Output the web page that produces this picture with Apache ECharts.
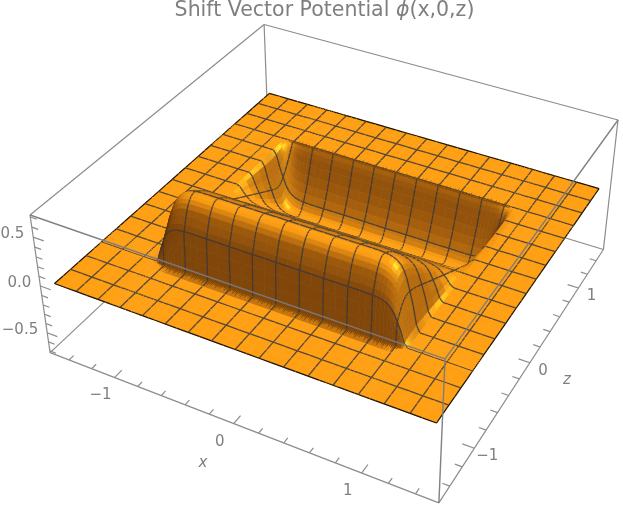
<!DOCTYPE html>
<html><head><meta charset="utf-8">
<style>html,body{margin:0;padding:0;background:#fff}#c{width:623px;height:506px}</style>
<script src="https://cdn.jsdelivr.net/npm/echarts@6/dist/echarts.min.js"></script>
</head><body><div id="c"></div>
<script>
// ---- values ----
const xHalf=[0,0.09,0.1875,0.28,0.375,0.47,0.5625,0.65,0.7,0.75,0.78,0.81,0.84,0.87,0.89,0.91,0.9375,0.95,0.965,0.98,0.995,1.02,1.06,1.125,1.22,1.3125,1.4,1.5];
const ridgeAlongX=[1,1,1,1,1,1,1,1,1,0.995,0.985,0.97,0.94,0.89,0.83,0.74,0.56,0.47,0.36,0.22,0.09,0,0,0,0,0,0,0];
// z>0 side (trough)
const zTrough=[0,0.09,0.1875,0.28,0.375,0.47,0.5625,0.59,0.61,0.63,0.65,0.67,0.69,0.71,0.73,0.75,0.78,0.81,0.84,0.87,0.89,0.905,0.92,0.9375,1.03,1.125,1.22,1.3125,1.4,1.5];
const troughDepth=[0,-0.085,-0.177,-0.265,-0.355,-0.445,-0.53,-0.555,-0.575,-0.59,-0.6,-0.6,-0.59,-0.57,-0.535,-0.5,-0.43,-0.35,-0.26,-0.16,-0.09,-0.045,0,0,0,0,0,0,0,0];
// z<0 side (ridge), listed by |z|
const zRidge=[0,0.09,0.1875,0.28,0.375,0.47,0.5625,0.65,0.7,0.75,0.78,0.8,0.82,0.84,0.86,0.88,0.9,0.92,0.9375,0.945,0.95,0.96,1.03,1.125,1.22,1.3125,1.4,1.5];
const ridgeHeight=[0,0.09,0.18,0.27,0.36,0.45,0.54,0.62,0.66,0.69,0.7,0.7,0.69,0.67,0.64,0.6,0.54,0.47,0.42,0.3,0.15,0,0,0,0,0,0,0];
const rimTeeth=[0.02,0.05,0.03,0.055,0.035,0.02,0.05,0.03,0.06,0.025,0.04,0.055,0.03,0.045,0.02,0.035,0.06,0.03,0.04,0.025];
const xTicks=[-1.4,-1.2,-1,-0.8,-0.6,-0.4,-0.2,0,0.2,0.4,0.6,0.8,1,1.2,1.4];
const zTicks=[-1.4,-1.2,-1,-0.8,-0.6,-0.4,-0.2,0,0.2,0.4,0.6,0.8,1,1.2,1.4];
const hTicks=[-0.7,-0.6,-0.5,-0.4,-0.3,-0.2,-0.1,0,0.1,0.2,0.3,0.4,0.5,0.6,0.7];
const xLabels=[[-1,'\u22121'],[0,'0'],[1,'1']];
const zLabels=[[-1,'\u22121'],[0,'0'],[1,'1']];
const hLabels=[[-0.5,'\u22120.5'],[0,'0.0'],[0.5,'0.5']];
const boxR=1.57, boxH=0.72, meshStep=0.1875, surfR=1.5;
// view anchors: [x,z,h,screenX,screenY]
const anchors=[[-boxR,-boxR,boxH,30,214],[-boxR,-boxR,-boxH,52,353],[boxR,-boxR,boxH,446,358],[boxR,-boxR,-boxH,437,503],
 [boxR,boxR,boxH,616,122],[boxR,boxR,-boxH,603,249],[-boxR,boxR,boxH,265,24],
 [-surfR,-surfR,0,53,284],[surfR,-surfR,0,437,424],[surfR,surfR,0,602,187],[-surfR,surfR,0,268,94]];

// ---- camera fit ----
function solve(A,b){const n=b.length;const M=A.map((r,i)=>r.concat(b[i]));
 for(let c=0;c<n;c++){let p=c;for(let r=c+1;r<n;r++)if(Math.abs(M[r][c])>Math.abs(M[p][c]))p=r;[M[c],M[p]]=[M[p],M[c]];
  for(let r=0;r<n;r++){if(r===c)continue;const f=M[r][c]/M[c][c];for(let k=c;k<=n;k++)M[r][k]-=f*M[c][k];}}
 return M.map((r,i)=>r[n]/r[i]);}
const rows=[],rhs=[];
anchors.forEach(([x,z,h,u,v])=>{rows.push([x,z,h,1,0,0,0,0,-u*x,-u*z,-u*h]);rhs.push(u);rows.push([0,0,0,0,x,z,h,1,-v*x,-v*z,-v*h]);rhs.push(v);});
const AtA=[],Atb=[];for(let a=0;a<11;a++){AtA.push([]);let s=0;for(let b=0;b<11;b++){let t=0;rows.forEach(r=>t+=r[a]*r[b]);AtA[a].push(t);}rows.forEach((r,k)=>s+=r[a]*rhs[k]);Atb.push(s);}
const P=solve(AtA,Atb);
function proj(x,z,h){const w=P[8]*x+P[9]*z+P[10]*h+1;return [(P[0]*x+P[1]*z+P[2]*h+P[3])/w,(P[4]*x+P[5]*z+P[6]*h+P[7])/w];}

// ---- surface ----
const xN=xHalf.slice(1).map(v=>-v).reverse().concat(xHalf);
const fN=ridgeAlongX.slice(1).reverse().concat(ridgeAlongX);
const zN=zRidge.slice(1).map(v=>-v).reverse().concat(zTrough);
const gN=ridgeHeight.slice(1).reverse().concat(troughDepth);
const H=(i,j)=>fN[i]*gN[j];
const isMesh=v=>Math.abs(v/meshStep-Math.round(v/meshStep))<1e-6;
const CELL=0,SX=1,SZ=2;
const items=[];
for(let j=zN.length-2;j>=0;j--)for(let i=0;i<xN.length-1;i++){
 items.push([CELL,i,j]);
 if(isMesh(xN[i]))items.push([SX,i,j]);
 if(isMesh(zN[j+1]))items.push([SZ,i,j+1]);
 if(i===xN.length-2)items.push([SX,i+1,j]);
 if(j===0)items.push([SZ,i,0]);
}
const hs=0.87;
const hl=(()=>{const v=[0.72,-0.2,0.66],m=Math.hypot(...v);return v.map(a=>a/m);})();
// cell gradients, softened across neighbours so the shading reads as smooth
const nI=xN.length-1,nJ=zN.length-1;
let gx=[],gz=[];
for(let i=0;i<nI;i++){gx.push([]);gz.push([]);for(let j=0;j<nJ;j++){
 const dx=xN[i+1]-xN[i],dz=zN[j+1]-zN[j];
 gx[i].push(((H(i+1,j)-H(i,j))+(H(i+1,j+1)-H(i,j+1)))/(2*dx)*hs);
 gz[i].push(((H(i,j+1)-H(i,j))+(H(i+1,j+1)-H(i+1,j)))/(2*dz)*hs);}}
function soften(g){return g.map((r,i)=>r.map((v,j)=>{let s=v*4,w=4;[[1,0],[-1,0],[0,1],[0,-1]].forEach(([a,b])=>{const q=g[i+a]&&g[i+a][j+b];if(q!==undefined){s+=q;w+=1;}});return s/w;}));}
gx=soften(gx);gz=soften(gz);
const smooth=(a,b,t)=>{const u=Math.min(1,Math.max(0,(t-a)/(b-a)));return u*u*(3-2*u);};
function shade(i,j){
 const hx=gx[i][j],hz=gz[i][j];
 const m=Math.hypot(hx,hz,1),nx=-hx/m,nz=-hz/m,nh=1/m;
 let B=0.5+0.5*smooth(0.15,0.85,nh)+0.22*nx;
 if(nz>0&&H(i,j)>0)B-=0.35*nz;
 B=Math.min(1,Math.max(0.3,B));
 const s=Math.pow(Math.max(0,nx*hl[0]+nz*hl[1]+nh*hl[2]),28);
 const c=[255*B+40*s,160*Math.pow(B,1.2)+85*s,20*B+25*s].map(v=>Math.min(255,Math.round(v)));
 return 'rgb('+c.join(',')+')';
}
function renderSurface(params,api){
 const kind=api.value(0),i=api.value(1),j=api.value(2);
 const pt=(a,b)=>api.coord(proj(xN[a],zN[b],H(a,b)));
 if(kind===CELL){const col=shade(i,j);
  return {type:'polygon',shape:{points:[pt(i,j),pt(i+1,j),pt(i+1,j+1),pt(i,j+1)]},style:{fill:col,stroke:col,lineWidth:0.7}};}
 let a,b,edge;
 if(kind===SX){a=pt(i,j);b=pt(i,j+1);edge=i===0||i===xN.length-1;}
 else{a=pt(i,j);b=pt(i+1,j);edge=j===0||j===zN.length-1;}
 return {type:'line',shape:{x1:a[0],y1:a[1],x2:b[0],y2:b[1]},style:{stroke:edge?'#1c1408':'rgba(55,55,60,0.85)',lineWidth:edge?1.2:1.3,fill:null}};
}
// comb of the near-vertical rim at both walls
const rimLimit=0.985;
const combItems=[[-1,-0.96],[1,0.92]];
function renderComb(params,api){
 const sign=api.value(0),z0=api.value(1),pts=[];let k=0;
 for(let x=-rimLimit;x<rimLimit;x+=0.014){const t=rimTeeth[k++%rimTeeth.length];
  const end=Math.min(1,(rimLimit-Math.abs(x))/0.05);
  pts.push(api.coord(proj(x,z0-sign*0.005,0)));
  pts.push(api.coord(proj(x+0.007,z0+sign*t*end,0)));}
 pts.push(api.coord(proj(rimLimit,z0-sign*0.005,0)));
 return {type:'polygon',shape:{points:pts},style:{fill:'rgba(116,64,6,0.88)'}};
}
// box
const C=(sx,sz,sh)=>[sx*boxR,sz*boxR,sh*boxH];
const backEdges=[[C(-1,1,1),C(1,1,1)],[C(-1,1,1),C(-1,-1,1)],[C(-1,1,1),C(-1,1,-1)],[C(-1,1,-1),C(1,1,-1)],[C(-1,1,-1),C(-1,-1,-1)],
 [C(-1,-1,1),C(-1,-1,-1)],[C(1,1,1),C(1,1,-1)],[C(-1,-1,-1),C(1,-1,-1)],[C(1,-1,-1),C(1,1,-1)]];
const frontEdges=[[C(-1,-1,1),C(1,-1,1)],[C(1,-1,1),C(1,1,1)],[C(1,-1,1),C(1,-1,-1)]];
const tickSegs=[];
xTicks.forEach(t=>{const M=Math.abs(t%1)<1e-6;tickSegs.push([[t,-boxR,-boxH],[t,-boxR+(M?0.09:0.055),-boxH]]);});
zTicks.forEach(t=>{const M=Math.abs(t%1)<1e-6;tickSegs.push([[boxR,t,-boxH],[boxR-(M?0.09:0.055),t,-boxH]]);});
hTicks.forEach(t=>{const M=Math.abs(Math.abs(t)-0.5)<1e-6||Math.abs(t)<1e-6;tickSegs.push([[-boxR,-boxR,t],[-boxR+(M?0.09:0.055),-boxR,t]]);});
const allBack=backEdges.concat(tickSegs);
function renderSeg(color,w){return function(params,api){
 const s=params.dataIndex,list=params.seriesName==='boxFront'?frontEdges:allBack,e=list[s];
 const a=api.coord(proj(...e[0])),b=api.coord(proj(...e[1]));
 return {type:'line',shape:{x1:a[0],y1:a[1],x2:b[0],y2:b[1]},style:{stroke:color,lineWidth:w,fill:null}};
};}
// tick labels
const labelFont='"DejaVu Sans",sans-serif', grey='#7f7f7f';
const lab=[];
xLabels.forEach(([t,s])=>lab.push({p:[t,-boxR,-boxH],dx:-14,dy:18,s,a:'center'}));
zLabels.forEach(([t,s])=>lab.push({p:[boxR,t,-boxH],dx:13,dy:8,s,a:'center'}));
hLabels.forEach(([t,s])=>lab.push({p:[-boxR,-boxR,t],dx:-9,dy:-3,s,a:'right'}));
function renderLabel(params,api){const l=lab[params.dataIndex],q=api.coord(proj(...l.p));
 return {type:'text',style:{text:l.s,x:q[0]+l.dx,y:q[1]+l.dy,align:l.a,verticalAlign:'middle',fill:grey,font:'15px '+labelFont}};}
const seq=n=>Array.from({length:n},(_,k)=>[k,k]);
const chart=echarts.init(document.getElementById('c'),null,{renderer:'canvas'});
const custom=(name,data,fn,z)=>({type:'custom',name,coordinateSystem:'cartesian2d',data,renderItem:fn,z,silent:true,progressive:0,animation:false,clip:false,encode:{x:[],y:[]}});
chart.setOption({
 animation:false,backgroundColor:'#fff',
 title:{text:'{a|Shift Vector Potential }{b|\u03d5}{a|(x,0,z)}',left:324.5,top:0,padding:0,textAlign:'center',
  textStyle:{fontWeight:'normal',rich:{a:{fontFamily:'"DejaVu Sans"',fontWeight:'normal',fontSize:20.5,color:grey},b:{fontFamily:'"DejaVu Sans"',fontWeight:'normal',fontStyle:'italic',fontSize:20.5,color:grey}}}},
 tooltip:{show:false},
 grid:{left:0,right:0,top:0,bottom:0},
 xAxis:{type:'value',min:0,max:623,show:false},
 yAxis:{type:'value',min:0,max:506,inverse:true,show:false},
 series:[
  custom('boxBack',seq(allBack.length),renderSeg('#8c8c8c',1.2),1),
  custom('surface',items,renderSurface,2),
  custom('comb',combItems,renderComb,3),
  custom('boxFront',seq(frontEdges.length),renderSeg('rgba(122,122,128,0.95)',1.4),4),
  custom('labels',seq(lab.length),renderLabel,5),
  {type:'custom',name:'axisNames',coordinateSystem:'cartesian2d',z:5,silent:true,clip:false,data:[[203,463,'x'],[567,380,'z']],encode:{x:0,y:1},
   renderItem:(p,api)=>{const q=api.coord([api.value(0),api.value(1)]),s=['x','z'][p.dataIndex];
    return {type:'text',style:{text:s,x:q[0],y:q[1],align:'center',verticalAlign:'middle',fill:grey,font:'italic 15px '+labelFont}};}}
 ]
});
</script></body></html>
